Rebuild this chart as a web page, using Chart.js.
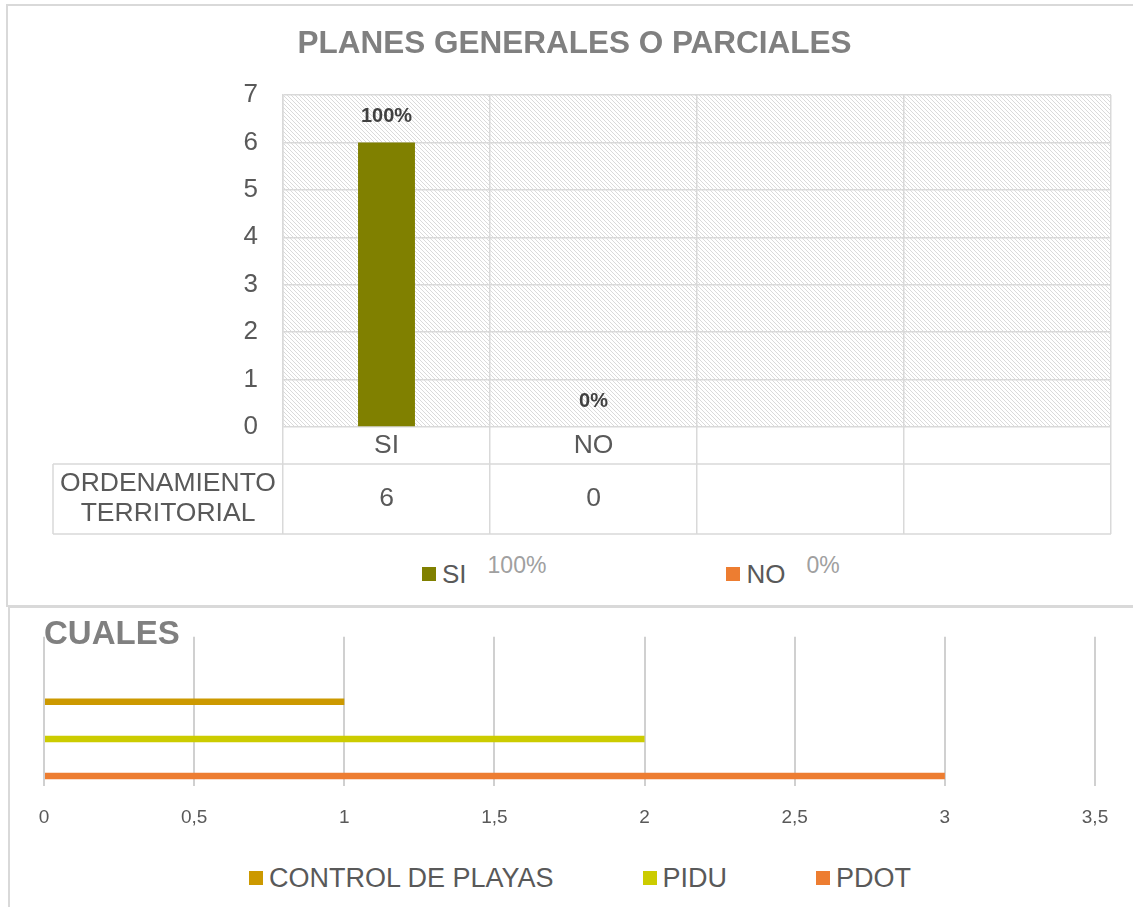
<!DOCTYPE html>
<html>
<head>
<meta charset="utf-8">
<script src="https://cdn.jsdelivr.net/npm/chart.js@4.4.1/dist/chart.umd.min.js"></script>
<style>
  body { margin: 0; background: #fff; font-family: 'Liberation Sans', Arial, sans-serif; }
  .frame { position: absolute; border-color: #d9d9d9; border-style: solid; }
  canvas { position: absolute; left: 0; }
  .legend { position: absolute; display: flex; align-items: center; height: 30px; color: #595959; white-space: nowrap; }
  .legend .item { display: flex; align-items: center; }
  .legend .box { width: 14px; height: 14px; margin-right: 6px; }
  .legend .pct { color: #a0a0a0; font-size: 23px; margin-left: 21px; position: relative; top: -9px; }
</style>
</head>
<body>
<div class="frame" style="left:6px;top:4px;width:1200px;height:599px;border-width:2px;"></div>
<div class="frame" style="left:8px;top:606px;width:1200px;height:400px;border-width:2px 0 0 2px;"></div>
<canvas id="planes" width="1133" height="540" style="top:0"></canvas>
<div id="legend-planes" class="legend" style="left:422px;top:559px;font-size:26px;"></div>
<canvas id="cuales" width="1133" height="245" style="top:609px"></canvas>
<div id="legend-cuales" class="legend" style="left:249px;top:863px;font-size:27px;"></div>

<script>
// PLANES GENERALES O PARCIALES
const planCategories = ['SI', 'NO', '', ''];
const planSeries = 'ORDENAMIENTO TERRITORIAL';
const planValues = [6, 0, null, null];
const planColors = ['#808000', '#ED7D31'];

// CUALES
const cualesNames = ['CONTROL DE PLAYAS', 'PIDU', 'PDOT'];
const cualesValues = [1, 2, 3];
const cualesColors = ['#CC9900', '#CCCC00', '#ED7D31'];

Chart.defaults.font.family = "'Liberation Sans', Arial, sans-serif";
Chart.defaults.color = '#595959';
Chart.defaults.animation = false;

const planTotal = planValues.reduce((s, v) => s + (v || 0), 0);
const pct = v => Math.round(v / planTotal * 100) + '%';

function hatch(ctx) {
    const c = document.createElement('canvas');
    c.width = 4; c.height = 4;
    const g = c.getContext('2d');
    const img = g.createImageData(4, 4);
    for (let y = 0; y < 4; y++) {
        for (let x = 0; x < 4; x++) {
            const i = (y * 4 + x) * 4;
            const v = ((x - y + 4) % 4 === 0) ? 218 : 255;
            img.data[i] = img.data[i + 1] = img.data[i + 2] = v;
            img.data[i + 3] = 255;
        }
    }
    g.putImageData(img, 0, 0);
    return ctx.createPattern(c, 'repeat');
}

// hatched plot area, bar labels and the data table under the axis
const planPlugin = {
    id: 'planTable',
    beforeDraw(chart) {
        const {ctx, chartArea: a} = chart;
        ctx.save();
        ctx.fillStyle = hatch(ctx);
        ctx.fillRect(a.left, a.top, a.right - a.left, a.bottom - a.top);
        ctx.restore();
    },
    afterDatasetsDraw(chart) {
        const {ctx} = chart;
        const meta = chart.getDatasetMeta(0);
        ctx.save();
        ctx.font = "bold 20px 'Liberation Sans', Arial, sans-serif";
        ctx.fillStyle = '#404040';
        ctx.textAlign = 'center';
        ctx.textBaseline = 'middle';
        meta.data.forEach((bar, i) => {
            const v = planValues[i];
            if (v === null) return;
            ctx.fillText(pct(v), bar.x, bar.y - 26);
        });
        ctx.restore();
    },
    afterDraw(chart) {
        const {ctx, chartArea: a, scales: {x}} = chart;
        const rowTop = a.bottom + 37;
        const rowBottom = a.bottom + 107;
        const headLeft = 53;
        ctx.save();
        ctx.strokeStyle = '#d9d9d9';
        ctx.lineWidth = 1.5;
        ctx.beginPath();
        ctx.moveTo(headLeft, rowTop); ctx.lineTo(x.right, rowTop);
        ctx.moveTo(headLeft, rowBottom); ctx.lineTo(x.right, rowBottom);
        ctx.moveTo(headLeft, rowTop); ctx.lineTo(headLeft, rowBottom);
        ctx.stroke();

        ctx.font = "26.5px 'Liberation Sans', Arial, sans-serif";
        ctx.fillStyle = '#595959';
        ctx.textAlign = 'center';
        ctx.textBaseline = 'middle';
        const rowMid = (rowTop + rowBottom) / 2;
        planCategories.forEach((c, i) => {
            const px = x.getPixelForValue(i);
            ctx.fillText(c, px, (a.bottom + rowTop) / 2);
            if (planValues[i] !== null) ctx.fillText(String(planValues[i]), px, rowMid);
        });
        const words = planSeries.split(' ');
        const hx = (headLeft + a.left) / 2;
        ctx.fillText(words[0], hx, rowMid - 15);
        ctx.fillText(words[1], hx, rowMid + 15);
        ctx.restore();
    }
};

new Chart(document.getElementById('planes'), {
    type: 'bar',
    data: {
        labels: planCategories,
        datasets: [{
            label: planSeries,
            data: planValues,
            backgroundColor: planColors,
            categoryPercentage: 1,
            barPercentage: 0.275
        }]
    },
    options: {
        responsive: false,
        layout: { padding: { left: 38, right: 22, top: 0, bottom: 6 } },
        plugins: {
            legend: { display: false },
            tooltip: { enabled: false },
            title: {
                display: true,
                text: 'PLANES GENERALES O PARCIALES',
                color: '#808080',
                font: { size: 31.5, weight: 'bold' },
                padding: { top: 25, bottom: 32.2 }
            }
        },
        scales: {
            x: {
                ticks: { display: false },
                grid: { color: '#d9d9d9', lineWidth: 1.5, tickLength: 107, offset: true },
                border: { display: false }
            },
            y: {
                min: 0,
                max: 7,
                ticks: { stepSize: 1, padding: 25, font: { size: 26 }, color: '#595959' },
                grid: { color: '#d9d9d9', lineWidth: 1.5, drawTicks: false },
                border: { color: '#d9d9d9', width: 1.5 },
                afterFit(s) { s.width = 245; }
            }
        }
    },
    plugins: [planPlugin]
});

const cualesTicks = { min: 0, max: 3.5 };
const commaTick = v => String(v).replace('.', ',');

new Chart(document.getElementById('cuales'), {
    type: 'bar',
    data: {
        labels: [''],
        datasets: cualesNames.map((name, i) => ({
            label: name,
            data: [cualesValues[i]],
            backgroundColor: cualesColors[i],
            categoryPercentage: 1.181,
            barPercentage: 0.176
        }))
    },
    options: {
        responsive: false,
        indexAxis: 'y',
        layout: { padding: { left: 44, right: 38, top: 0, bottom: 4 } },
        plugins: {
            legend: { display: false },
            tooltip: { enabled: false },
            title: {
                display: true,
                text: 'CUALES',
                align: 'start',
                color: '#808080',
                font: { size: 33, weight: 'bold' },
                padding: { top: 6.2, bottom: -18 }
            }
        },
        scales: {
            x: {
                type: 'linear',
                position: 'bottom',
                min: cualesTicks.min,
                max: cualesTicks.max,
                ticks: { stepSize: 0.5, padding: 20.6, font: { size: 19 }, color: '#595959', callback: commaTick },
                grid: { color: '#d0d0d0', lineWidth: 2, drawTicks: false },
                border: { display: false }
            },
            x2: {
                type: 'linear',
                position: 'top',
                min: cualesTicks.min,
                max: cualesTicks.max,
                ticks: { stepSize: 0.5, display: false },
                grid: { color: '#d0d0d0', lineWidth: 2, drawOnChartArea: false, tickLength: 55 },
                border: { display: false }
            },
            y: { display: false }
        }
    }
});

// html legends built from the same arrays
function buildLegend(el, names, colors, extras) {
    names.forEach((name, i) => {
        const item = document.createElement('div');
        item.className = 'item';
        if (i > 0) item.style.marginLeft = el.dataset.gap + 'px';
        const box = document.createElement('span');
        box.className = 'box';
        box.style.background = colors[i];
        item.appendChild(box);
        const txt = document.createElement('span');
        txt.textContent = name;
        item.appendChild(txt);
        if (extras) {
            const p = document.createElement('span');
            p.className = 'pct';
            p.textContent = extras[i];
            item.appendChild(p);
        }
        el.appendChild(item);
    });
}

const lp = document.getElementById('legend-planes');
lp.dataset.gap = 180;
buildLegend(lp, planCategories.slice(0, 2), planColors, planValues.slice(0, 2).map(pct));

const lc = document.getElementById('legend-cuales');
lc.dataset.gap = 89;
buildLegend(lc, cualesNames, cualesColors);
</script>
</body>
</html>
